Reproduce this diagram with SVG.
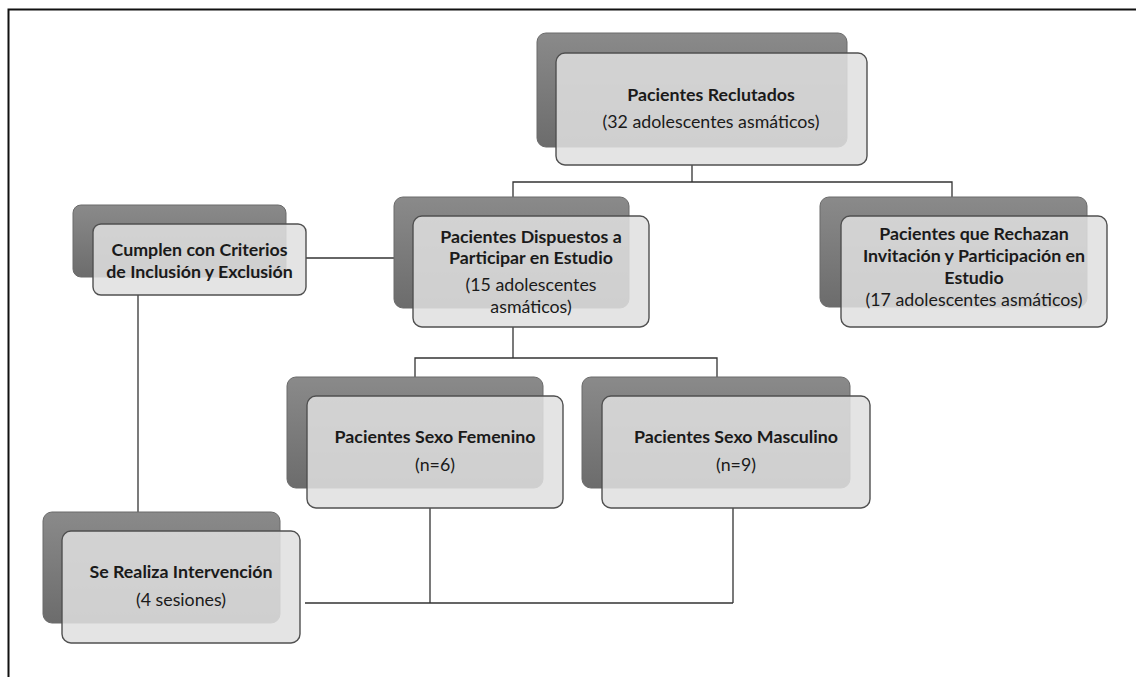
<svg xmlns="http://www.w3.org/2000/svg" width="1136" height="677" viewBox="0 0 1136 677">
  <defs>
    <linearGradient id="dk" x1="0" y1="0" x2="0" y2="1">
      <stop offset="0" stop-color="#8a8a8a"/>
      <stop offset="1" stop-color="#6c6c6c"/>
    </linearGradient>
    <style>
      .back { fill: url(#dk); stroke: #6a6a6a; stroke-width: 1; }
      .front { fill: #e0e0e0; fill-opacity: 0.86; stroke: #505050; stroke-width: 1.4; }
      .t { font-family: Lato, "Liberation Sans", sans-serif; font-size: 17.8px; fill: #1a1a1a; text-anchor: middle; }
      .b { font-weight: bold; }
      .c { fill: none; stroke: #333; stroke-width: 1.3; }
      .frame { fill: none; stroke: #111; stroke-width: 2; }
    </style>
  </defs>
  <rect width="1136" height="677" fill="#fff"/>
  <path class="frame" d="M8.5,677 V9.5 H1136"/>

  <g id="connectors">
    <path class="c" d="M692,165 V182 M513,197 V182 H952 V197"/>
    <path class="c" d="M306,258 H394"/>
    <path class="c" d="M513,327 V358 M415,377 V358 H717 V377"/>
    <path class="c" d="M138,295 V512"/>
    <path class="c" d="M305,603 H733 M430,508 V603 M733,508 V603"/>
  </g>

  <g id="n-reclutados">
    <rect class="back" x="537" y="33" width="310" height="114" rx="9"/>
    <rect class="front" x="556" y="53" width="311" height="112" rx="9"/>
    <text class="t b" x="711" y="101">Pacientes Reclutados</text>
    <text class="t" x="711" y="128">(32 adolescentes asmáticos)</text>
  </g>

  <g id="n-criterios">
    <rect class="back" x="73" y="205" width="213" height="72" rx="8"/>
    <rect class="front" x="93" y="224" width="213" height="71" rx="8"/>
    <text class="t b" x="199.5" y="256">Cumplen con Criterios</text>
    <text class="t b" x="199.5" y="278">de Inclusión y Exclusión</text>
  </g>

  <g id="n-dispuestos">
    <rect class="back" x="394" y="197" width="235" height="111" rx="9"/>
    <rect class="front" x="413" y="216" width="236" height="111" rx="9"/>
    <text class="t b" x="531" y="243">Pacientes Dispuestos a</text>
    <text class="t b" x="531" y="264">Participar en Estudio</text>
    <text class="t" x="531" y="291">(15 adolescentes</text>
    <text class="t" x="531" y="313">asmáticos)</text>
  </g>

  <g id="n-rechazan">
    <rect class="back" x="820" y="197" width="267" height="110" rx="9"/>
    <rect class="front" x="841" y="216" width="266" height="111" rx="9"/>
    <text class="t b" x="974" y="240">Pacientes que Rechazan</text>
    <text class="t b" x="974" y="262">Invitación y Participación en</text>
    <text class="t b" x="974" y="284">Estudio</text>
    <text class="t" x="974" y="306">(17 adolescentes asmáticos)</text>
  </g>

  <g id="n-femenino">
    <rect class="back" x="287" y="377" width="256" height="111" rx="9"/>
    <rect class="front" x="307" y="396" width="256" height="112" rx="9"/>
    <text class="t b" x="435" y="443">Pacientes Sexo Femenino</text>
    <text class="t" x="435" y="471">(n=6)</text>
  </g>

  <g id="n-masculino">
    <rect class="back" x="582" y="377" width="268" height="111" rx="9"/>
    <rect class="front" x="602" y="396" width="268" height="112" rx="9"/>
    <text class="t b" x="736" y="443">Pacientes Sexo Masculino</text>
    <text class="t" x="736" y="471">(n=9)</text>
  </g>

  <g id="n-intervencion">
    <rect class="back" x="43" y="512" width="237" height="111" rx="9"/>
    <rect class="front" x="62" y="531" width="238" height="112" rx="9"/>
    <text class="t b" x="181" y="578">Se Realiza Intervención</text>
    <text class="t" x="181" y="606">(4 sesiones)</text>
  </g>
</svg>
